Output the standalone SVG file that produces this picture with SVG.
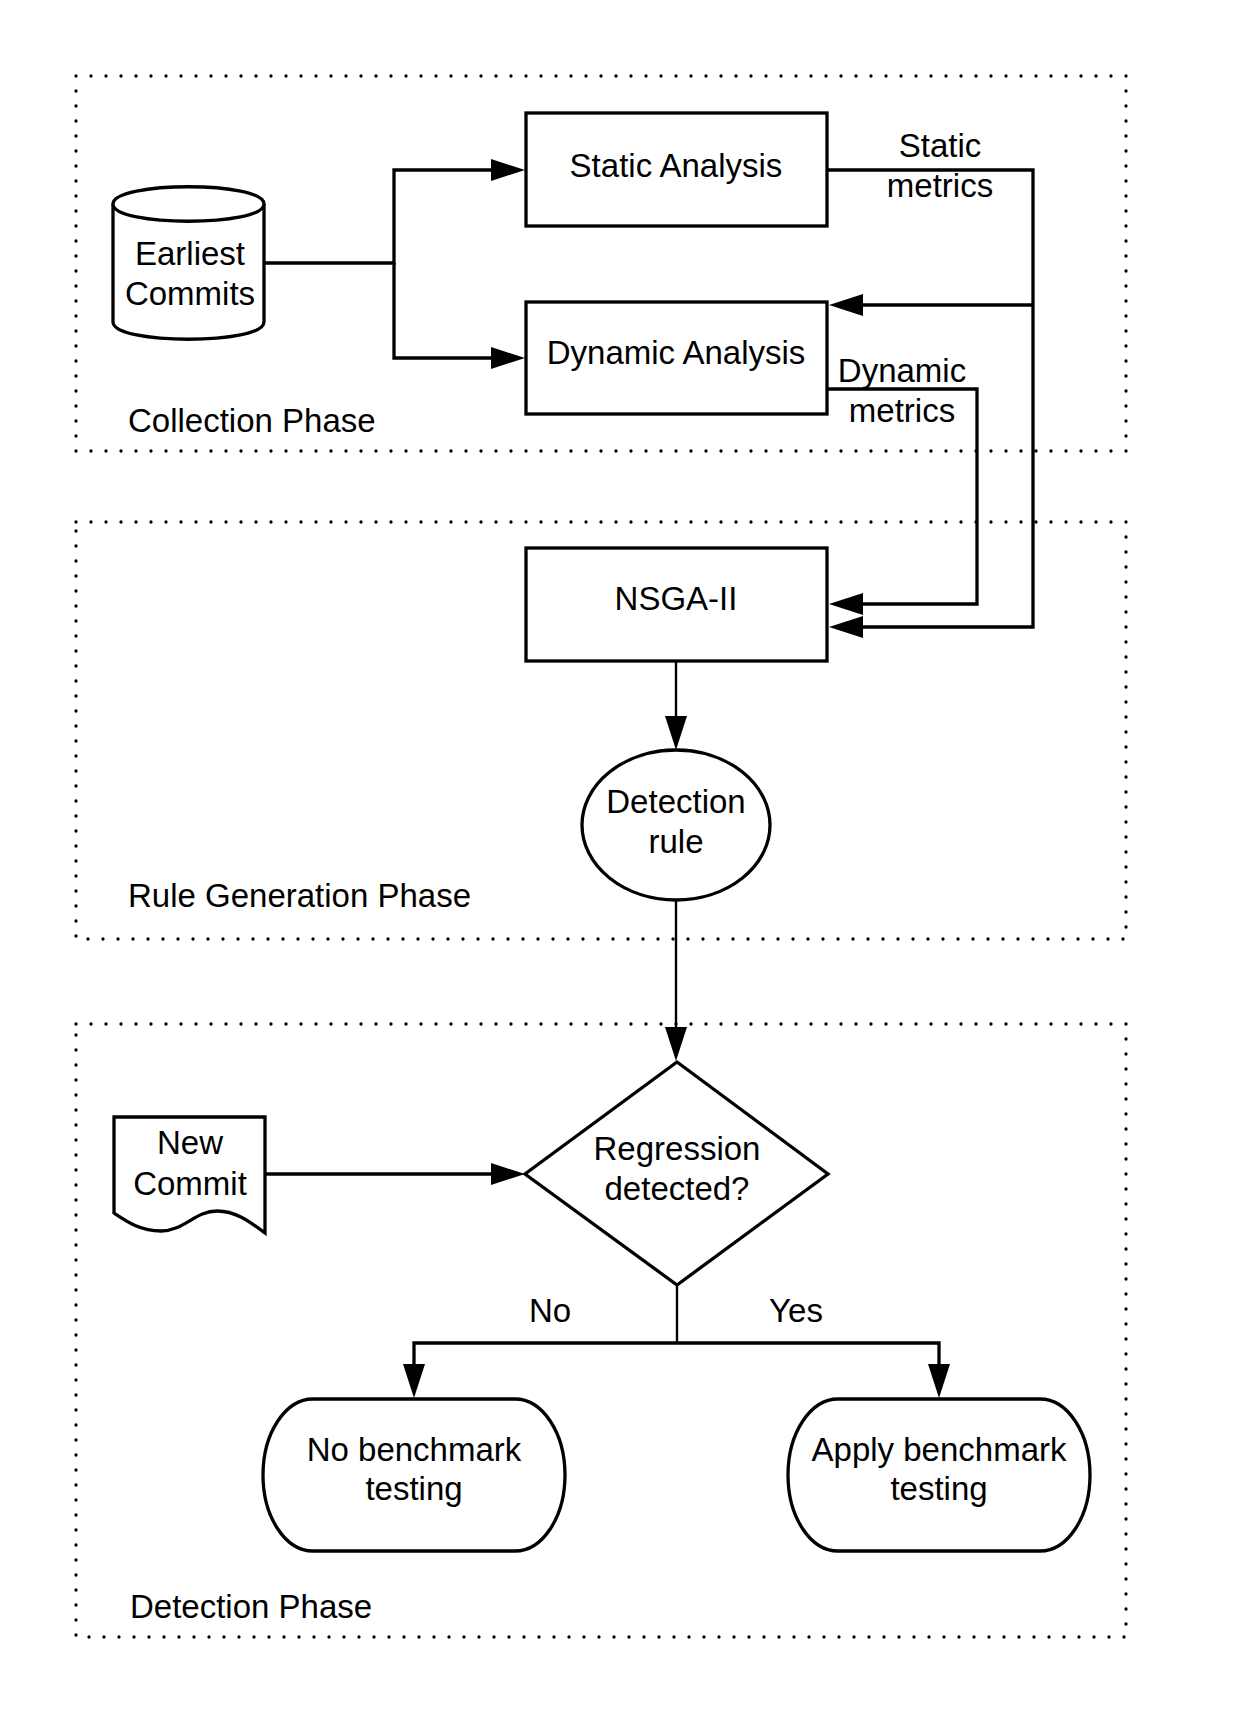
<svg xmlns="http://www.w3.org/2000/svg" width="1239" height="1716" viewBox="0 0 1239 1716">
  <style>
    .phase { fill: none; stroke: #000; stroke-width: 3.3; stroke-linecap: round; stroke-dasharray: 0 15; }
    .shape { fill: #fff; stroke: #000; stroke-width: 3.3; }
    .edge { fill: none; stroke: #000; stroke-width: 3.3; }
    .thin { fill: none; stroke: #000; stroke-width: 2.4; }
    text { font-family: "Liberation Sans", Arial, sans-serif; font-size: 33px; fill: #000; }
    .c { text-anchor: middle; }
  </style>
  <defs>
    <marker id="arrow" viewBox="0 0 34 22" refX="28" refY="11" markerWidth="34" markerHeight="22" markerUnits="userSpaceOnUse" orient="auto">
      <path d="M0,0 L34,11 L0,22 Z" fill="#000"/>
    </marker>
  </defs>

  <rect width="1239" height="1716" fill="#fff"/>

  <!-- phase frames -->
  <g id="collection-phase">
    <rect class="phase" x="76" y="76" width="1050" height="375"/>
    <text x="128" y="432">Collection Phase</text>
  </g>
  <g id="rule-generation-phase">
    <rect class="phase" x="76" y="522" width="1050" height="417"/>
    <text x="128" y="907">Rule Generation Phase</text>
  </g>
  <g id="detection-phase">
    <rect class="phase" x="76" y="1024" width="1050" height="613"/>
    <text x="130" y="1618">Detection Phase</text>
  </g>

  <!-- connectors -->
  <g id="connectors">
    <path class="edge" d="M264,263 H394 V170 H519" marker-end="url(#arrow)"/>
    <path class="edge" d="M394,263 V358 H519" marker-end="url(#arrow)"/>
    <path class="edge" d="M827,170 H1033 V627 H835" marker-end="url(#arrow)"/>
    <path class="edge" d="M1033,305 H835" marker-end="url(#arrow)"/>
    <path class="edge" d="M827,389 H977 V604 H835" marker-end="url(#arrow)"/>
    <path class="thin" d="M676,661 V744" marker-end="url(#arrow)"/>
    <path class="thin" d="M676,900 V1055" marker-end="url(#arrow)"/>
    <path class="edge" d="M265,1174 H519" marker-end="url(#arrow)"/>
    <path class="thin" d="M677,1285 V1343"/>
    <path class="edge" d="M677,1343 H414 V1392" marker-end="url(#arrow)"/>
    <path class="edge" d="M677,1343 H939 V1392" marker-end="url(#arrow)"/>
    <text class="c" x="940" y="157">Static</text>
    <text class="c" x="940" y="197">metrics</text>
    <text class="c" x="902" y="382">Dynamic</text>
    <text class="c" x="902" y="422">metrics</text>
    <text class="c" x="550" y="1322">No</text>
    <text class="c" x="796" y="1322">Yes</text>
  </g>

  <!-- nodes -->
  <g id="earliest-commits">
    <path class="shape" d="M113,204 C113,181 264,181 264,204 L264,322 C264,345 113,345 113,322 Z"/>
    <path class="shape" fill="none" d="M113,204 C113,227 264,227 264,204"/>
    <text class="c" x="190" y="265">Earliest</text>
    <text class="c" x="190" y="305">Commits</text>
  </g>

  <g id="static-analysis">
    <rect class="shape" x="526" y="113" width="301" height="113"/>
    <text class="c" x="676" y="177">Static Analysis</text>
  </g>

  <g id="dynamic-analysis">
    <rect class="shape" x="526" y="302" width="301" height="112"/>
    <text class="c" x="676" y="364">Dynamic Analysis</text>
  </g>

  <g id="nsga-ii">
    <rect class="shape" x="526" y="548" width="301" height="113"/>
    <text class="c" x="676" y="610">NSGA-II</text>
  </g>

  <g id="detection-rule">
    <ellipse class="shape" cx="676" cy="825" rx="94" ry="75"/>
    <text class="c" x="676" y="813">Detection</text>
    <text class="c" x="676" y="853">rule</text>
  </g>

  <g id="new-commit">
    <path class="shape" d="M114,1117 H265 V1233 C250,1222 236,1211 217,1211 C195,1211 184,1231 161,1231 C140,1231 126,1221 114,1213 Z"/>
    <text class="c" x="190" y="1154">New</text>
    <text class="c" x="190" y="1195">Commit</text>
  </g>

  <g id="regression-detected">
    <path class="shape" d="M677,1062 L828,1174 L677,1285 L525,1174 Z"/>
    <text class="c" x="677" y="1160">Regression</text>
    <text class="c" x="677" y="1200">detected?</text>
  </g>

  <g id="no-benchmark">
    <path class="shape" d="M313,1399 H515 A50,76 0 0 1 515,1551 H313 A50,76 0 0 1 313,1399 Z"/>
    <text class="c" x="414" y="1461">No benchmark</text>
    <text class="c" x="414" y="1500">testing</text>
  </g>

  <g id="apply-benchmark">
    <path class="shape" d="M838,1399 H1040 A50,76 0 0 1 1040,1551 H838 A50,76 0 0 1 838,1399 Z"/>
    <text class="c" x="939" y="1461">Apply benchmark</text>
    <text class="c" x="939" y="1500">testing</text>
  </g>
</svg>
